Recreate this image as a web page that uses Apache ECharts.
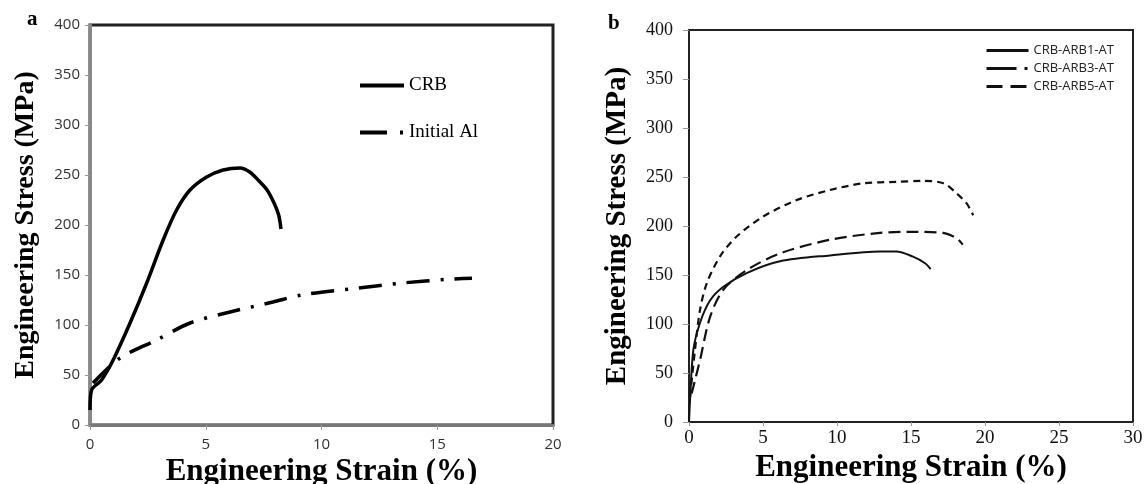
<!DOCTYPE html>
<html>
<head>
<meta charset="utf-8">
<script src="https://cdn.jsdelivr.net/npm/echarts@6/dist/echarts.min.js"></script>
<style>
  html,body{margin:0;padding:0;background:#fff;}
  #main{width:1145px;height:484px;}
</style>
</head>
<body>
<div id="main"></div>
<script>
// panel a
var crbStrain = [0, 0.07, 0.5, 1.0, 1.73, 2.45, 3.16, 3.74, 4.32, 5.04, 5.75, 6.48, 6.9, 7.3, 7.65, 7.95, 8.15, 8.25]
var crbStress = [15, 35, 45, 65, 102, 142, 185, 215, 235, 248, 255, 257, 253, 244, 235, 222, 210, 196]
var alStrain = [0.13, 1.3, 2.88, 4.32, 6.05, 7.9, 9.14, 11.58, 13.5, 15.47, 16.5]
var alStress = [42, 67, 85, 102, 113, 123, 130, 137, 142, 145.7, 146.7]

// panel b
var arb1Strain = [0, 0.07, 0.29, 0.74, 1.42, 2.32, 3.9, 6.15, 9.53, 12.9, 14.0, 15.1, 15.95, 16.33]
var arb1Stress = [0, 22, 73, 101, 124, 138, 152, 164, 170, 174, 174, 169, 162, 156]
var arb3Strain = [0.18, 0.74, 1.42, 2.32, 3.9, 6.15, 9.53, 12.9, 15.1, 17.16, 18.09, 18.5]
var arb3Stress = [29, 63, 107, 135, 155, 172, 186, 193, 194, 193, 187.5, 181]
var arb5Strain = [0.07, 0.4, 0.74, 1.2, 2.1, 3.2, 5.0, 7.28, 9.53, 11.78, 14.0, 15.8, 17.2, 18.1, 18.76, 19.2]
var arb5Stress = [26, 73, 114, 141.5, 169, 189, 209.5, 226.5, 236.7, 243.6, 245, 246, 243.6, 233, 223, 211]

var legendA = ['CRB', 'Initial Al']
var legendB = ['CRB-ARB1-AT', 'CRB-ARB3-AT', 'CRB-ARB5-AT']

function pairs(xs, ys){
  var out = []
  for (var i = 0; i < xs.length; i++) out.push([xs[i], ys[i]])
  return out
}

var serif = '"Liberation Serif", "DejaVu Serif", serif'
var sans = '"Open Sans", "Liberation Sans", sans-serif'
/* 图例里不要圆点 */
var noDot = {color: 'transparent', borderWidth: 0, opacity: 0}

var myChart = echarts.init(document.getElementById('main'), null, {renderer: 'canvas'})

var option = {
  backgroundColor: '#fff',
  animation: false,
  title: [
    {text: 'a', left: 22, top: 4, textStyle: {fontFamily: serif, fontWeight: 'bold', fontSize: 21, color: '#000'}},
    {text: 'b', left: 603, top: 8, textStyle: {fontFamily: serif, fontWeight: 'bold', fontSize: 21, color: '#000'}}
  ],
  legend: [
    {
      orient: 'vertical', left: 353, top: 71, itemWidth: 44, itemHeight: 14, itemGap: 28,
      textStyle: {fontFamily: serif, fontSize: 19, color: '#000'},
      data: [
        {name: legendA[0], itemStyle: noDot, lineStyle: {width: 4, type: 'solid'}},
        {name: legendA[1], itemStyle: noDot, lineStyle: {width: 4, type: [27, 13, 3, 20]}}
      ]
    },
    {
      orient: 'vertical', left: 980, top: 39, itemWidth: 42, itemHeight: 12, itemGap: 5,
      textStyle: {fontFamily: sans, fontSize: 13, color: '#222'},
      data: [
        {name: legendB[0], itemStyle: noDot, lineStyle: {width: 3, type: 'solid'}},
        {name: legendB[1], itemStyle: noDot, lineStyle: {width: 3, type: [30, 8, 3, 10]}},
        {name: legendB[2], itemStyle: noDot, lineStyle: {width: 3, type: [16, 8]}}
      ]
    }
  ],
  grid: [
    {left: 90, right: 592, top: 25, bottom: 59, outerBoundsMode: 'none', show: true, borderColor: '#222', borderWidth: 3, backgroundColor: '#fff'},
    {left: 689, right: 12, top: 30, bottom: 62, outerBoundsMode: 'none', show: true, borderColor: '#222', borderWidth: 2, backgroundColor: '#fff'}
  ],
  xAxis: [
    {
      gridIndex: 0, type: 'value', min: 0, max: 20, interval: 5,
      name: 'Engineering Strain (%)', nameLocation: 'middle', nameGap: 6,
      nameTextStyle: {fontFamily: serif, fontWeight: 'bold', fontSize: 31, color: '#000', verticalAlign: 'top'},
      axisLine: {show: true, lineStyle: {color: '#777', width: 3}},
      axisTick: {show: true, length: 5, lineStyle: {color: '#999'}},
      axisLabel: {margin: 12, fontFamily: sans, fontSize: 15, color: '#333'},
      splitLine: {show: false}
    },
    {
      gridIndex: 1, type: 'value', min: 0, max: 30, interval: 5,
      name: 'Engineering Strain (%)', nameLocation: 'middle', nameGap: 27,
      nameTextStyle: {fontFamily: serif, fontWeight: 'bold', fontSize: 31, color: '#000', verticalAlign: 'top'},
      axisLine: {show: true, lineStyle: {color: '#222', width: 2}},
      axisTick: {show: true, length: 4, lineStyle: {color: '#999'}},
      axisLabel: {margin: 7, fontFamily: serif, fontSize: 19, color: '#111'},
      splitLine: {show: false}
    }
  ],
  yAxis: [
    {
      gridIndex: 0, type: 'value', min: 0, max: 400, interval: 50,
      name: 'Engineering Stress (MPa)', nameLocation: 'middle', nameGap: 50,
      nameTextStyle: {fontFamily: serif, fontWeight: 'bold', fontSize: 28, color: '#000'},
      axisLine: {show: true, lineStyle: {color: '#888', width: 3}},
      axisTick: {show: true, length: 5, lineStyle: {color: '#999'}},
      axisLabel: {margin: 10, fontFamily: sans, fontSize: 15, color: '#333'},
      splitLine: {show: false}
    },
    {
      gridIndex: 1, type: 'value', min: 0, max: 400, interval: 50,
      name: 'Engineering Stress (MPa)', nameLocation: 'middle', nameGap: 57,
      nameTextStyle: {fontFamily: serif, fontWeight: 'bold', fontSize: 29, color: '#000'},
      axisLine: {show: true, lineStyle: {color: '#222', width: 2}},
      axisTick: {show: true, length: 6, lineStyle: {color: '#999'}},
      axisLabel: {margin: 16, fontFamily: serif, fontSize: 18, color: '#111'},
      splitLine: {show: false}
    }
  ],
  series: [
    {
      name: legendA[0], type: 'line', xAxisIndex: 0, yAxisIndex: 0, smooth: 0.3, symbol: 'none',
      lineStyle: {color: '#000', width: 3.5}, itemStyle: {color: '#000'},
      data: pairs(crbStrain, crbStress)
    },
    {
      name: legendA[1], type: 'line', xAxisIndex: 0, yAxisIndex: 0, smooth: 0.3, symbol: 'none',
      lineStyle: {color: '#000', width: 3.5, type: [23, 11, 3, 11]}, itemStyle: {color: '#000'},
      data: pairs(alStrain, alStress)
    },
    {
      name: legendB[0], type: 'line', xAxisIndex: 1, yAxisIndex: 1, smooth: 0.3, symbol: 'none',
      lineStyle: {color: '#111', width: 2}, itemStyle: {color: '#111'},
      data: pairs(arb1Strain, arb1Stress)
    },
    {
      name: legendB[1], type: 'line', xAxisIndex: 1, yAxisIndex: 1, smooth: 0.3, symbol: 'none',
      lineStyle: {color: '#111', width: 2.2, type: [12, 6]}, itemStyle: {color: '#111'},
      data: pairs(arb3Strain, arb3Stress)
    },
    {
      name: legendB[2], type: 'line', xAxisIndex: 1, yAxisIndex: 1, smooth: 0.3, symbol: 'none',
      lineStyle: {color: '#111', width: 2.2, type: [7, 5]}, itemStyle: {color: '#111'},
      data: pairs(arb5Strain, arb5Stress)
    }
  ]
}

myChart.setOption(option, true)
</script>
</body>
</html>
